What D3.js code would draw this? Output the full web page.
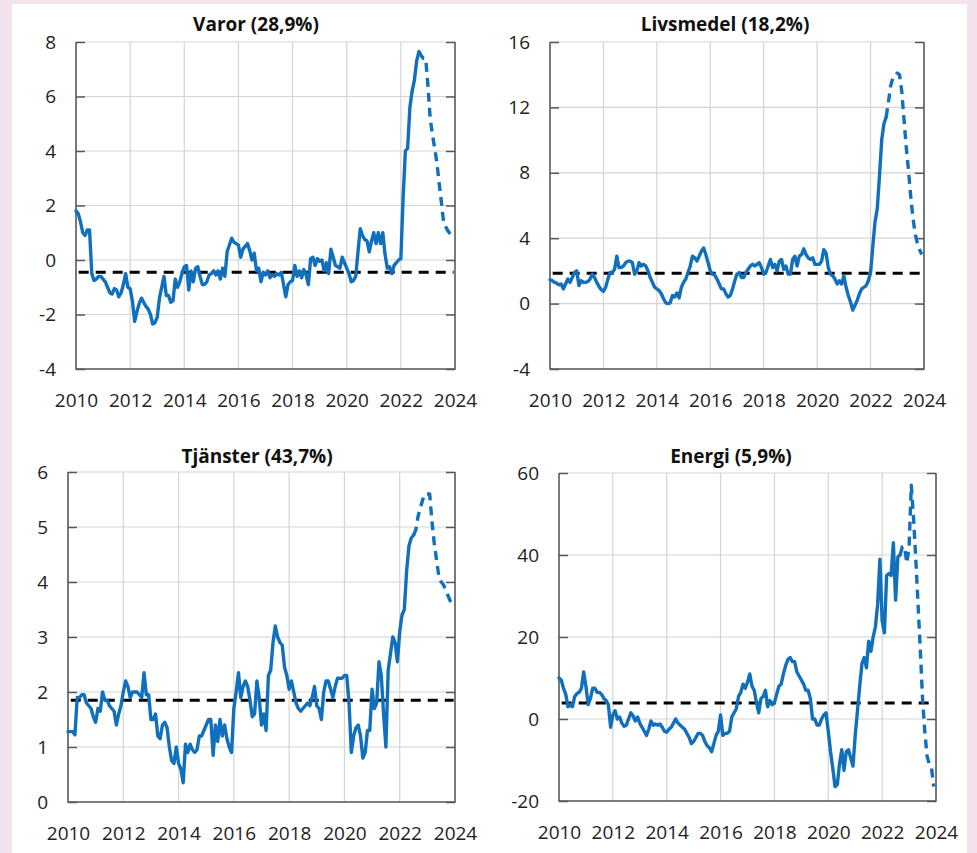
<!DOCTYPE html>
<html>
<head>
<meta charset="utf-8">
<script src="https://cdn.jsdelivr.net/npm/d3@7/dist/d3.min.js"></script>
<style>
  html, body { margin: 0; padding: 0; background: #f2e2ec; }
  svg { display: block; }
  text { font-family: "Open Sans", "Liberation Sans", sans-serif; }
</style>
</head>
<body>
<svg id="chart" width="977" height="853"></svg>
<script>
// ---------------- DATA ----------------
const START_YEAR = 2010;           // monthly series start: Jan 2010 (month index 0)
const xTickYears = [2010, 2012, 2014, 2016, 2018, 2020, 2022, 2024];
const panelTitles = ["Varor (28,9%)", "Livsmedel (18,2%)", "Tjänster (43,7%)", "Energi (5,9%)"];

// Varor
const varorTicks = [-4, -2, 0, 2, 4, 6, 8];
const varorRef = -0.45;
const varorActual = [
  1.8, 1.7, 1.4, 1.0, 0.9, 1.1, 1.1, -0.5, -0.75, -0.7, -0.6, -0.6,
  -0.7, -0.8, -1.0, -1.2, -1.25, -1.05, -1.1, -1.35, -1.2, -0.9, -0.5, -1.0,
  -1.05, -1.5, -2.25, -1.9, -1.6, -1.4, -1.55, -1.7, -1.8, -2.0, -2.35, -2.3,
  -2.1, -1.4, -1.0, -0.6, -1.3, -1.3, -1.55, -1.5, -0.7, -1.0, -0.8, -0.5,
  -0.25, -0.2, -1.1, -0.4, -0.8, -0.3, -0.25, -0.6, -0.9, -0.9, -0.8, -0.55,
  -0.5, -0.4, -0.55, -0.4, -0.7, -0.3, -0.6, 0.3, 0.55, 0.8, 0.65, 0.6,
  0.55, 0.1, 0.4, 0.5, 0.6, 0.35, 0.0, 0.25, -0.4, -0.3, -0.8, -0.45,
  -0.55, -0.4, -0.65, -0.55, -0.6, -0.5, -0.55, -0.45, -0.9, -1.35, -0.9, -0.8,
  -0.75, -0.2, -0.6, -0.4, -0.65, -0.35, -0.55, -0.9, 0.05, 0.1, -0.2, 0.05,
  -0.05, 0.0, -0.4, -0.1, -0.5, 0.4, 0.1, -0.2, -0.25, -0.3, 0.1, -0.1,
  -0.3, -0.5, -0.8, -0.75, -0.6, 0.3, 1.15, 0.9, 0.75, 0.7, 0.3, 0.7,
  1.0, 0.6, 1.0, 0.6, 1.0, 0.2, -0.3, -0.25, -0.5, -0.2, -0.1, 0.0,
  0.05, 2.3, 4.0, 4.1, 5.6, 6.2, 6.6, 7.3, 7.65
];
const varorForecastStart = 152;
const varorForecast = [7.65, 7.5, 7.4, 7.4, 6.4, 5.2, 4.6, 4.1, 3.55, 2.8, 2.1, 1.35, 1.2, 1.05, 0.95, 0.85];

// Livsmedel
const livsTicks = [-4, 0, 4, 8, 12, 16];
const livsRef = 1.85;
const livsActual = [
  1.45, 1.4, 1.3, 1.25, 1.15, 1.2, 0.9, 1.2, 1.5, 1.3, 1.6, 1.9,
  2.0, 1.1, 1.4, 1.3, 1.3, 1.35, 1.5, 1.8, 1.6, 1.3, 1.05, 0.85,
  0.75, 1.0, 1.5, 1.9, 1.9, 2.1, 2.9, 2.2, 2.2, 2.3, 2.5, 2.6,
  2.6, 2.5, 1.8, 2.0, 2.5, 2.3, 2.4, 2.3, 2.0, 1.6, 1.3, 1.0,
  0.9, 0.8, 0.6, 0.3, 0.05, 0.0, 0.05, 0.5, 0.4, 0.65, 0.35, 1.0,
  1.3, 1.5, 1.9, 2.3, 2.9, 2.8, 2.6, 2.9, 3.2, 3.4, 3.0, 2.5,
  2.0, 1.8, 1.75, 1.5, 1.2, 0.9, 0.9, 0.6, 0.4, 0.5, 0.9, 1.4,
  1.8, 1.9, 1.6, 1.6, 1.9, 2.1, 2.3, 2.4, 2.3, 2.4, 2.5, 2.2,
  1.8, 1.9, 2.3, 2.7, 2.2, 2.4, 2.0, 2.6, 2.7, 2.1, 2.3, 1.8,
  1.8, 2.7, 2.9, 2.3, 2.9, 3.0, 3.35, 3.0, 2.8, 2.7, 2.8, 2.4,
  2.4, 2.4, 2.6, 3.3, 3.1, 2.2, 1.8, 1.7, 1.5, 1.2, 1.4, 1.2,
  1.7, 1.0, 0.5, 0.1, -0.4, -0.1, 0.2, 0.6, 0.9, 1.0, 1.1, 1.4,
  1.9, 3.5, 5.0, 5.8, 7.8, 10.0, 11.0, 11.4
];
const livsForecastStart = 151;
const livsForecast = [11.4, 12.3, 13.3, 13.8, 13.9, 14.1, 14.0, 13.0, 11.3, 9.6, 8.2, 6.6, 5.3, 4.3, 3.7, 3.3, 3.0];

// Tjänster
const tjTicks = [0, 1, 2, 3, 4, 5, 6];
const tjRef = 1.85;
const tjActual = [
  1.28, 1.28, 1.28, 1.22, 1.9, 1.9, 1.95, 1.95, 1.8, 1.75, 1.7, 1.55,
  1.45, 1.7, 1.65, 2.0, 1.85, 1.85, 1.75, 1.7, 1.65, 1.4, 1.6, 1.75,
  2.0, 2.2, 2.1, 1.9, 2.0, 2.0, 2.0, 1.95, 1.9, 2.35, 1.95, 1.95,
  1.5, 1.5, 1.6, 1.2, 1.15, 1.4, 1.45, 1.35, 1.0, 0.75, 0.7, 1.0,
  0.7, 0.6, 0.35, 1.05, 0.9, 1.05, 0.95, 0.9, 0.95, 1.2, 1.2, 1.3,
  1.4, 1.5, 1.5, 0.85, 1.4, 1.1, 1.5, 1.2, 1.4, 1.15, 1.0, 0.9,
  1.7, 2.0, 2.35, 1.9, 2.1, 2.2, 2.1, 1.85, 1.55, 1.6, 2.2, 1.9,
  1.4, 1.6, 1.3, 2.3, 2.4, 2.9, 3.2, 3.0, 2.9, 2.85, 2.45, 2.3,
  2.05, 2.2, 2.0, 1.8, 1.7, 1.65, 1.7, 1.75, 1.8, 1.75, 1.9, 2.1,
  1.75, 1.7, 1.5, 2.0, 2.2, 2.2, 2.05, 1.9, 2.1, 2.25, 2.25, 2.25,
  2.3, 2.3, 1.8, 0.9, 1.2, 1.35, 1.4, 1.2, 0.8, 0.9, 1.3, 1.3,
  2.05, 1.7, 1.8, 2.55, 2.3, 1.6, 1.0, 2.4, 2.7, 3.0, 2.9, 2.55,
  3.1, 3.4, 3.5, 4.2, 4.65, 4.8, 4.85
];
const tjForecastStart = 150;
const tjForecast = [4.85, 4.95, 5.2, 5.35, 5.5, 5.6, 5.6, 5.6, 5.1, 4.7, 4.4, 4.1, 4.0, 3.95, 3.85, 3.75, 3.65, 3.6];

// Energi
const energiTicks = [-20, 0, 20, 40, 60];
const energiRef = 3.9;
const energiActual = [
  10, 9.5, 7.5, 6, 3, 3.5, 3, 5.5, 6.2, 6.5, 7.5, 11.5,
  8, 3.5, 5, 7.5, 7.5, 6.5, 6.5, 6, 5, 4.5, 3.5, -2,
  1, 2, 0, 0.5, -1, -1.8, -1.5, 0, 1.5, 0.8, -0.5, 0.5,
  -1, -2, -3, -4, -2.5, -0.5, -1.5, -1.2, -1.5, -1.2, -2, -3,
  -3.2, -2.5, -2, -1, 0, -1, -1.5, -2, -2.5, -3.5, -4.5, -6,
  -5.5, -4.5, -3.5, -3.5, -4, -5.5, -6.5, -7, -8, -6, -4, -3,
  1, -4, -3.5, -3.5, -3, 0.5, 1.5, 2.5, 5.5, 6.5, 8.5, 7.5,
  9, 11, 8, 7, 4, 1.5, 5, 5.5, 7, 3, 4.5, 3.5,
  4, 6, 8, 8.5, 11, 13, 14.5, 15, 14, 14, 11.5, 10.5,
  9.5, 8.5, 7, 7, 5, 0, 0, -1.5, -1.5, 0, 1, 1.5,
  -3, -8, -12, -16.5, -16, -11, -7.5, -12.5, -8, -7.5, -9.5, -11.5,
  -4, 2, 8, 13.5, 15, 12.5, 19, 16.5, 20, 22.5, 28, 39,
  24, 21, 35, 35.5, 35, 43, 29, 39.5, 40
];
const energiForecastStart = 152;
const energiForecast = [40, 42, 42, 38, 42, 57, 49, 39, 28, 17, 5, -3, -9, -11, -12, -16.5];

// ---------------- LAYOUT ----------------
const svg = d3.select("#chart");
svg.append("rect").attr("x", 12).attr("y", 4).attr("width", 955).attr("height", 849).attr("fill", "#ffffff");

const BLUE = "#1170bd";
const AXIS = "#595959";
const GRID = "#d4d4d4";

const panels = [
  { title: panelTitles[0], ticks: varorTicks, ref: varorRef, actual: varorActual, fStart: varorForecastStart, forecast: varorForecast,
    x0: 76, x1: 455, y0: 42, y1: 369, titleX: 256, titleY: 31 },
  { title: panelTitles[1], ticks: livsTicks, ref: livsRef, actual: livsActual, fStart: livsForecastStart, forecast: livsForecast,
    x0: 550, x1: 924, y0: 42, y1: 369, titleX: 725, titleY: 31 },
  { title: panelTitles[2], ticks: tjTicks, ref: tjRef, actual: tjActual, fStart: tjForecastStart, forecast: tjForecast,
    x0: 68, x1: 455, y0: 472, y1: 802, titleX: 257, titleY: 463 },
  { title: panelTitles[3], ticks: energiTicks, ref: energiRef, actual: energiActual, fStart: energiForecastStart, forecast: energiForecast,
    x0: 559, x1: 936, y0: 473, y1: 801, titleX: 731, titleY: 463 }
];

panels.forEach(p => {
  const g = svg.append("g");
  const x = d3.scaleLinear().domain([xTickYears[0], xTickYears[xTickYears.length - 1]]).range([p.x0, p.x1]);
  const y = d3.scaleLinear().domain(d3.extent(p.ticks)).range([p.y1, p.y0]);

  // horizontal gridlines
  g.append("g").selectAll("line").data(p.ticks).join("line")
    .attr("x1", p.x0).attr("x2", p.x1)
    .attr("y1", d => y(d)).attr("y2", d => y(d))
    .attr("stroke", GRID).attr("stroke-width", 1.2);
  // vertical gridlines
  g.append("g").selectAll("line").data(xTickYears.slice(1, -1)).join("line")
    .attr("x1", d => x(d)).attr("x2", d => x(d))
    .attr("y1", p.y0).attr("y2", p.y1)
    .attr("stroke", GRID).attr("stroke-width", 1.2);

  // left axis (ticks inward, labels outside)
  const la = g.append("g").attr("transform", `translate(${p.x0},0)`)
    .call(d3.axisLeft(y).tickValues(p.ticks).tickSizeInner(-9).tickSizeOuter(0).tickPadding(20).tickFormat(d => String(d)));
  la.select(".domain").remove();
  la.selectAll(".tick line").attr("stroke", AXIS).attr("stroke-width", 1.5);
  la.selectAll(".tick text").attr("font-size", 19).attr("fill", "#222");

  // right axis (ticks inward, no labels)
  const ra = g.append("g").attr("transform", `translate(${p.x1},0)`)
    .call(d3.axisRight(y).tickValues(p.ticks).tickSizeInner(-9).tickSizeOuter(0).tickFormat(""));
  ra.select(".domain").remove();
  ra.selectAll(".tick line").attr("stroke", AXIS).attr("stroke-width", 1.5);

  // bottom axis labels
  const ba = g.append("g").attr("transform", `translate(0,${p.y1})`)
    .call(d3.axisBottom(x).tickValues(xTickYears).tickSize(0).tickPadding(25).tickFormat(d => String(d)));
  ba.select(".domain").remove();
  ba.selectAll(".tick text").attr("font-size", 19).attr("fill", "#222");

  // frame lines: left, right, bottom
  g.append("path")
    .attr("d", `M${p.x0},${p.y0}V${p.y1}H${p.x1}V${p.y0}`)
    .attr("fill", "none").attr("stroke", AXIS).attr("stroke-width", 1.6);

  // reference (average) line
  g.append("line")
    .attr("x1", x(START_YEAR + 0.1)).attr("x2", x(2024 - 0.05))
    .attr("y1", y(p.ref)).attr("y2", y(p.ref))
    .attr("stroke", "#000").attr("stroke-width", 3)
    .attr("stroke-dasharray", "10,7");

  const line = d3.line().x(d => x(START_YEAR + d.m / 12)).y(d => y(d.v)).curve(d3.curveLinear);

  // forecast (dashed)
  const fc = p.forecast.map((v, i) => ({ m: p.fStart + i, v }));
  g.append("path").datum(fc).attr("d", line)
    .attr("fill", "none").attr("stroke", BLUE).attr("stroke-width", 3.4)
    .attr("stroke-dasharray", "9,6").attr("stroke-linejoin", "round");

  // actual (solid)
  const ac = p.actual.map((v, i) => ({ m: i, v }));
  g.append("path").datum(ac).attr("d", line)
    .attr("fill", "none").attr("stroke", BLUE).attr("stroke-width", 3.4)
    .attr("stroke-linejoin", "round").attr("stroke-linecap", "round");

  // title
  g.append("text").attr("x", p.titleX).attr("y", p.titleY)
    .attr("text-anchor", "middle").attr("font-size", 19).attr("font-weight", "bold").attr("fill", "#111")
    .text(p.title);
});
</script>
</body>
</html>
